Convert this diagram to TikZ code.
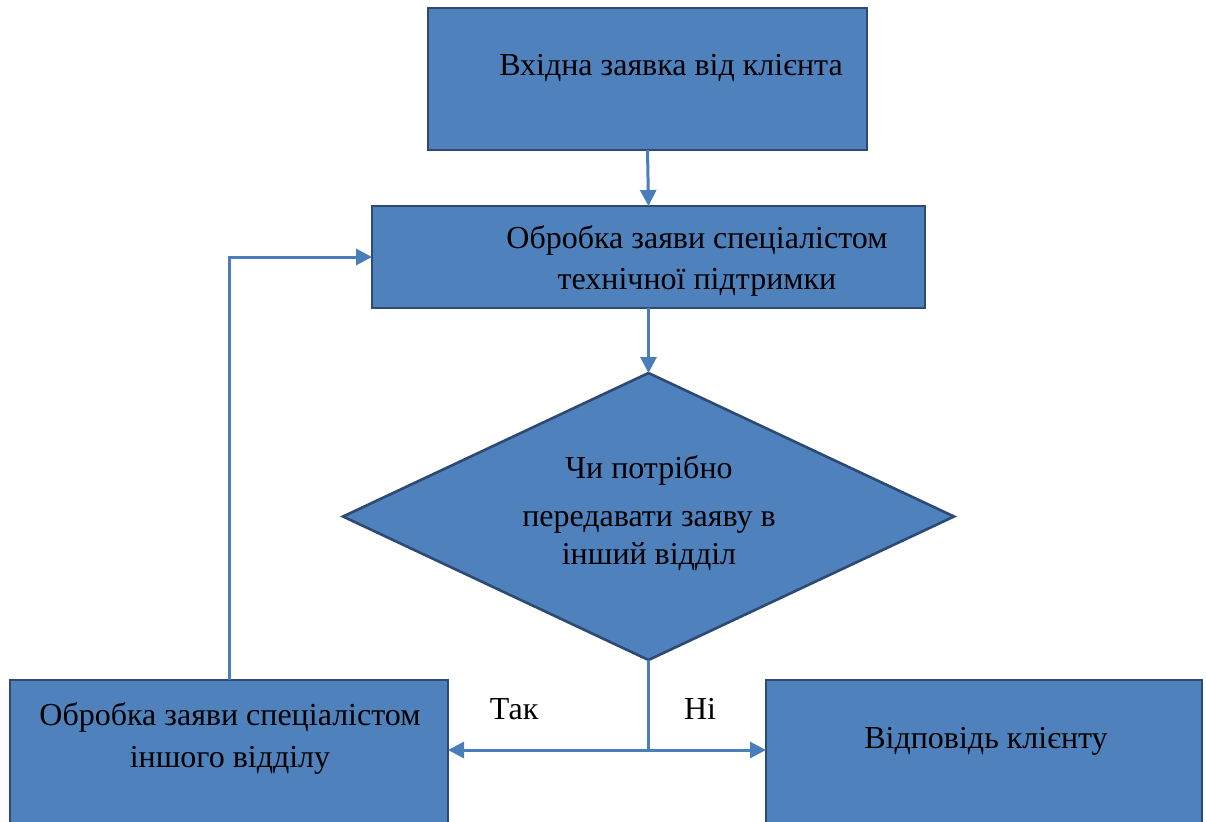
\documentclass[tikz,border=0pt]{standalone}
\usepackage{fontspec}
\setmainfont{Liberation Serif}
\usetikzlibrary{shapes.geometric,arrows.meta}
\definecolor{boxfill}{HTML}{4F81BD}
\definecolor{boxline}{HTML}{2C4A73}
\definecolor{arrline}{HTML}{4A7EBB}
\tikzset{
  box/.style={draw=boxline,fill=boxfill,line width=2.6pt,rectangle,inner sep=0pt,outer sep=0pt},
  dia/.style={draw=boxline,fill=boxfill,line width=2.6pt,diamond,inner sep=0pt,outer sep=0pt},
  txt/.style={anchor=base,inner sep=0pt,font=\rmfamily\fontsize{32}{38}\selectfont,text=black},
  conn/.style={draw=arrline,line width=3pt,-{Triangle[length=16pt,width=16pt]}},
  plain/.style={draw=arrline,line width=3pt}
}
\begin{document}
\begin{tikzpicture}[x=1pt,y=-1pt]
\useasboundingbox (0,0) rectangle (1206,821);
\clip (0,0) rectangle (1206,821);
\node[box,minimum width=439pt,minimum height=142pt] (b1) at (647.5,79) {};
\node[box,minimum width=553pt,minimum height=102pt] (b2) at (648.5,257) {};
\node[dia,minimum width=611pt,minimum height=287pt] (d) at (648.5,516.5) {};
\node[box,minimum width=438pt,minimum height=180pt] (b3) at (229,770) {};
\node[box,minimum width=436pt,minimum height=180pt] (b4) at (984,770) {};

\node[txt] (t1) at (671,76) {Вхідна заявка від клієнта};
\node[txt] (t2a) at (697,248) {Обробка заяви спеціалістом};
\node[txt] (t2b) at (697,289) {технічної підтримки};
\node[txt] (t3a) at (649,478) {Чи потрібно};
\node[txt] (t3b) at (649,526) {передавати заяву в};
\node[txt] (t3c) at (649,564) {інший відділ};
\node[txt] (t4a) at (230,725) {Обробка заяви спеціалістом};
\node[txt] (t4b) at (230,767) {іншого відділу};
\node[txt] (t5) at (986,748) {Відповідь клієнту};
\node[txt] (l1) at (514,719) {Так};
\node[txt] (l2) at (700,719) {Ні};

\coordinate (j) at (648.5,750);
\draw[conn] (b1.south) -- (b2.north);
\draw[conn] (b2.south) -- (d.north);
\draw[plain] (d.south) -- (j);
\draw[conn] (j) -- (b3.east |- j);
\draw[conn] (j) -- (b4.west |- j);
\draw[conn] (b3.north) |- (b2.west);
\end{tikzpicture}
\end{document}
